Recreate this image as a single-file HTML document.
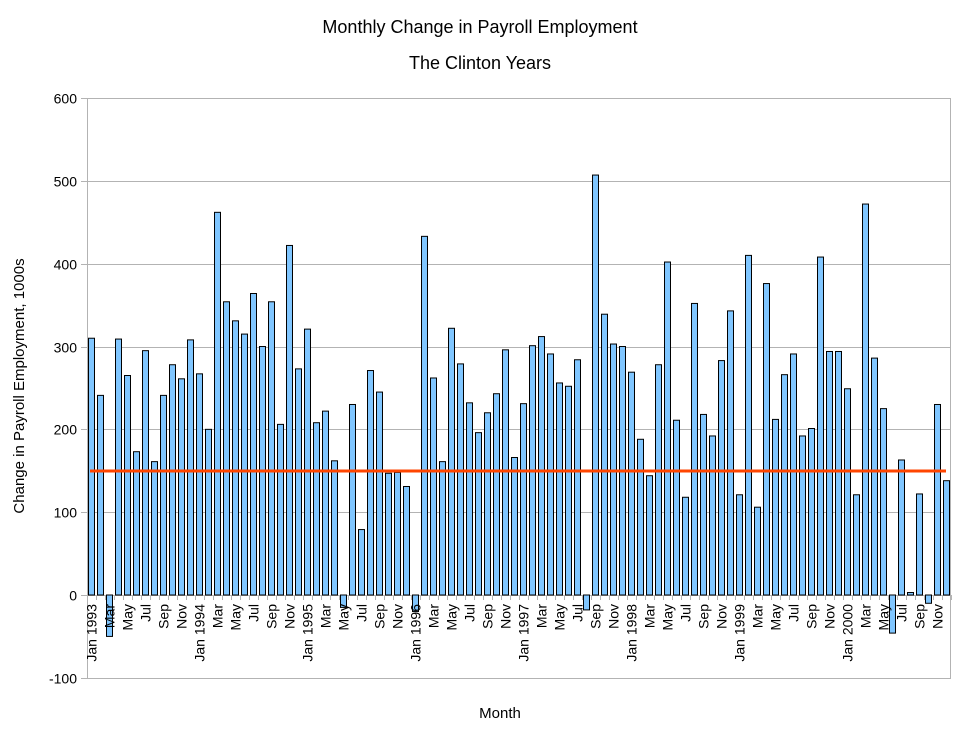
<!DOCTYPE html>
<html><head><meta charset="utf-8"><style>
html,body{margin:0;padding:0;background:#fff;}
svg{display:block;font-family:"Liberation Sans",Arial,sans-serif;}
</style></head><body>
<svg id="c" width="960" height="735" viewBox="0 0 960 735" xmlns="http://www.w3.org/2000/svg">
<rect width="960" height="735" fill="#fff"/>
<text x="480" y="33" font-size="18" text-anchor="middle" fill="#000">Monthly Change in Payroll Employment</text>
<text x="480" y="69" font-size="18" text-anchor="middle" fill="#000">The Clinton Years</text>
<text transform="translate(24,386) rotate(-90)" font-size="15" text-anchor="middle" fill="#000">Change in Payroll Employment, 1000s</text>
<text x="500" y="718" font-size="15" text-anchor="middle" fill="#000">Month</text>
<g id="grid"></g>
<g id="bars"></g>
<line x1="90" y1="471" x2="946" y2="471" stroke="#ff4500" stroke-width="3"/>
<g id="labels"></g>
</svg>
<script>
(function(){
var vals=[310,241,-50,309,265,173,295,161,241,278,261,308,
267,200,462,354,331,315,364,300,354,206,422,273,
321,208,222,162,-15,230,79,271,245,147,148,131,
-20,433,262,161,322,279,232,196,220,243,296,166,
231,301,312,291,256,252,284,-18,507,339,303,300,
269,188,144,278,402,211,118,352,218,192,283,343,
121,410,106,376,212,266,291,192,201,408,294,294,
249,121,472,286,225,-46,163,3,122,-10,230,138];
var NS="http://www.w3.org/2000/svg";
function el(t,a,p,txt){var e=document.createElementNS(NS,t);for(var k in a)e.setAttribute(k,a[k]);if(txt!==undefined)e.textContent=txt;p.appendChild(e);return e;}
var X0=87,X1=951,Y0=595,S=0.8283;
function yv(v){return Y0-v*S;}
var g=document.getElementById('grid');
for(var v=-100;v<=600;v+=100){
  var yy=Math.round(yv(v))+0.5;
  if(v>-100&&v<600) el('line',{x1:X0,y1:yy,x2:X1,y2:yy,stroke:'#b3b3b3','stroke-width':1},g);
  el('line',{x1:81,y1:yy,x2:X0,y2:yy,stroke:'#b3b3b3','stroke-width':1},g);
  el('text',{x:77,y:yy+5,'font-size':14,'text-anchor':'end',fill:'#000'},g,String(v));
}
el('rect',{x:X0+0.5,y:98.5,width:X1-X0-1,height:580,fill:'none',stroke:'#b3b3b3','stroke-width':1},g);
for(var i=0;i<=96;i++){var xx=X0+i*9+0.5;el('line',{x1:xx,y1:595,x2:xx,y2:600,stroke:'#b3b3b3','stroke-width':1},g);}
var b=document.getElementById('bars');
for(var i=0;i<96;i++){
  var v=vals[i],bx=X0+1+i*9+0.5,bt=Math.min(yv(v),Y0),h=Math.abs(v*S);
  el('rect',{x:bx,y:bt,width:6,height:Math.max(h,1),fill:'#80c6ff',stroke:'#000','stroke-width':1},b);
}
var L=document.getElementById('labels');
var mn=['Jan','Feb','Mar','Apr','May','Jun','Jul','Aug','Sep','Oct','Nov','Dec'];
for(var i=0;i<96;i+=2){
  var m=i%12,t=m==0?('Jan '+(1993+i/12)):mn[m];
  var cx=X0+i*9+4.5+5;
  el('text',{transform:'translate('+cx+',604) rotate(-90)','font-size':14,'text-anchor':'end',fill:'#000'},L,t);
}
})();
</script>
</body></html>
